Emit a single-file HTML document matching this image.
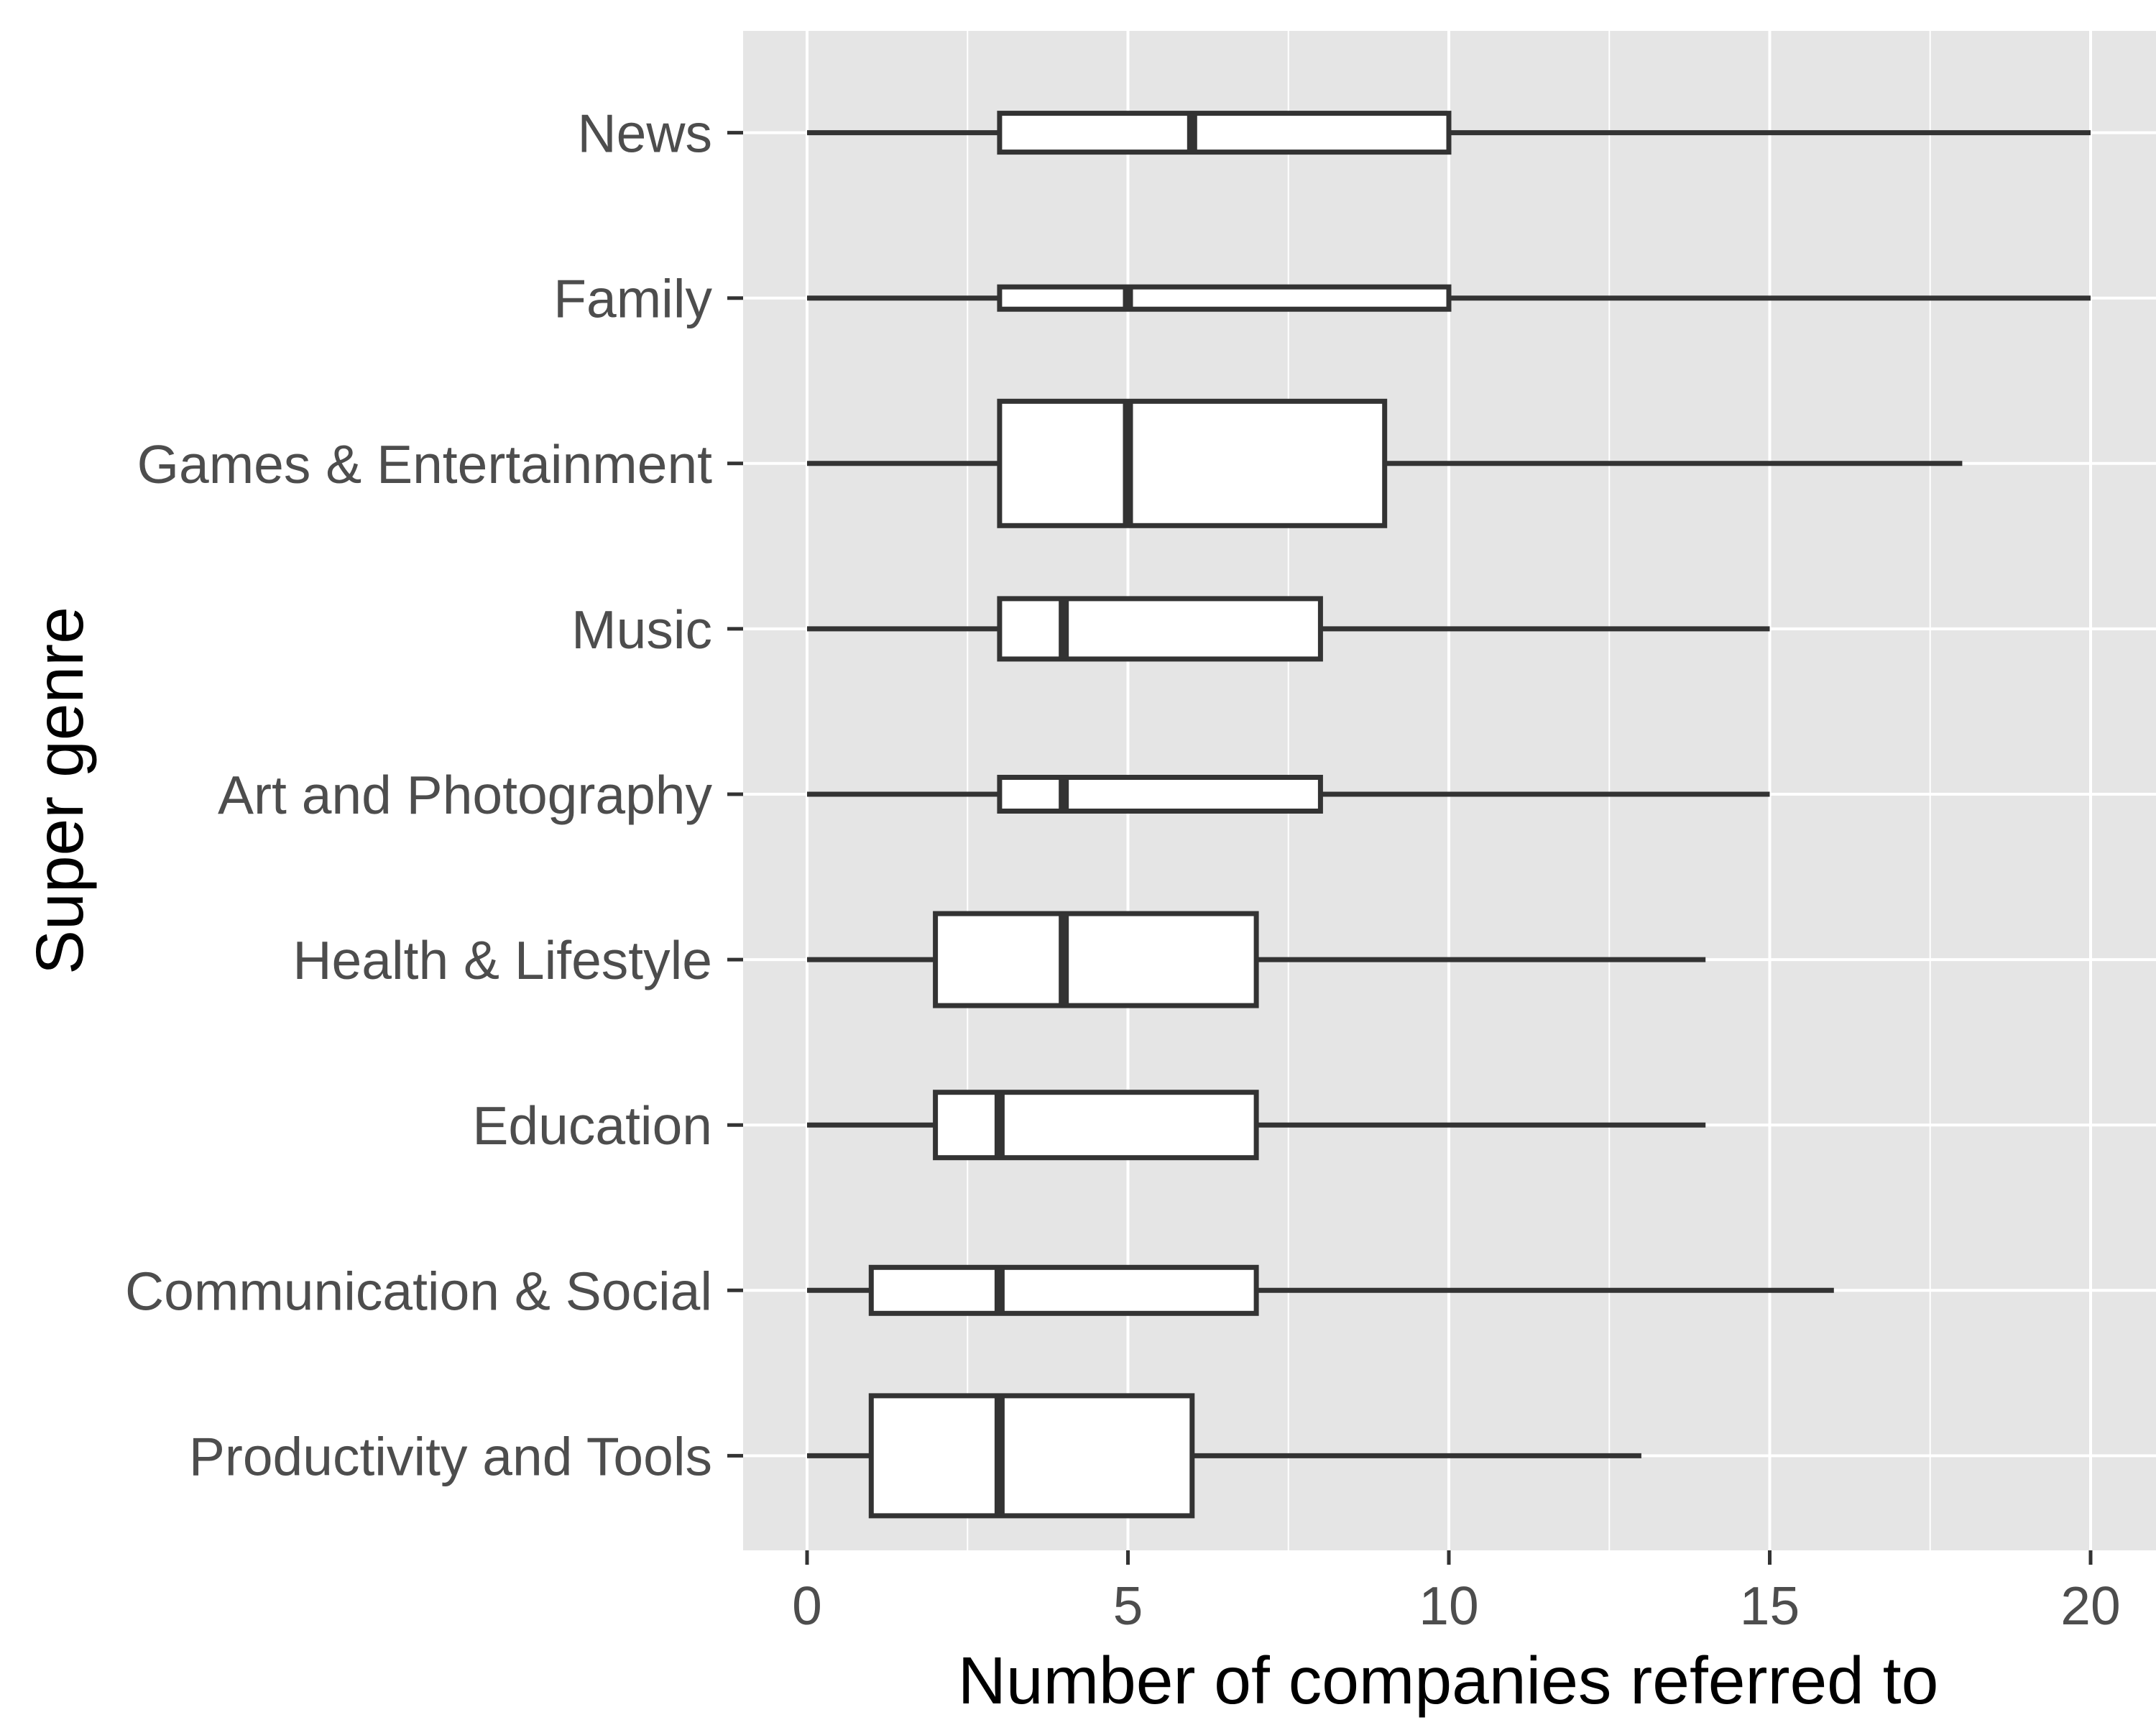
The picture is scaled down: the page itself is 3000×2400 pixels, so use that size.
<!DOCTYPE html>
<html><head><meta charset="utf-8"><style>
html,body{margin:0;padding:0;background:#fff}
svg{display:block}
text{font-family:"Liberation Sans",Arial,sans-serif}
</style></head><body>
<svg id="chart" width="3000" height="2400" viewBox="0 0 3000 2400">
<rect x="1034" y="43" width="1966" height="2114" fill="#e5e5e5"/>
<g id="grid"></g><g id="boxes"></g><g id="axes"></g>
<text x="2015" y="2370" font-size="93" text-anchor="middle" fill="#000">Number of companies referred to</text>
<text transform="translate(115,1100) rotate(-90)" font-size="93" text-anchor="middle" fill="#000">Super genre</text>
</svg>
<script>
const categories=["News","Family","Games & Entertainment","Music","Art and Photography","Health & Lifestyle","Education","Communication & Social","Productivity and Tools"];
const mins=[0,0,0,0,0,0,0,0,0];
const q1s=[3,3,3,3,3,2,2,1,1];
const medians=[6,5,5,4,4,4,3,3,3];
const q3s=[10,10,9,8,8,7,7,7,6];
const maxs=[20,20,18,15,15,14,14,16,13];
const boxHeights=[54,31,173,84,47,128,91,64,167];
const xTicks=[0,5,10,15,20];
const NS="http://www.w3.org/2000/svg";
const X=v=>1123+v*89.3;
const Y=i=>184.6+i*230.1;
function mk(tag,attrs,parent){const e=document.createElementNS(NS,tag);for(const k in attrs)e.setAttribute(k,attrs[k]);parent.appendChild(e);return e;}
const grid=document.getElementById('grid'),boxes=document.getElementById('boxes'),axes=document.getElementById('axes');
for(let v=2.5;v<20;v+=5){const l=mk('line',{x1:X(v),x2:X(v),y1:43,y2:2157,stroke:'#fff','stroke-width':2},grid);

}
xTicks.forEach(v=>{const l=mk('line',{x1:X(v),x2:X(v),y1:43,y2:2157,stroke:'#fff','stroke-width':4},grid);


const t=mk('line',{x1:X(v),x2:X(v),y1:2157,y2:2177,stroke:'#333','stroke-width':5},axes);


const tx=mk('text',{x:X(v),y:2260,'font-size':75,'text-anchor':'middle',fill:'#4d4d4d'},axes);tx.textContent=v;

});
categories.forEach((c,i)=>{const y=Y(i);
const g=mk('line',{x1:1034,x2:3000,y1:y,y2:y,stroke:'#fff','stroke-width':4},grid);


const t=mk('line',{x1:1012,x2:1034,y1:y,y2:y,stroke:'#333','stroke-width':5},axes);


const tx=mk('text',{x:991,y:y+27,'font-size':75,'text-anchor':'end',fill:'#4d4d4d'},axes);tx.textContent=c;


const h=boxHeights[i];
const w1=mk('line',{x1:X(mins[i]),x2:X(q1s[i]),y1:y,y2:y,stroke:'#333','stroke-width':7},boxes);


const w2=mk('line',{x1:X(q3s[i]),x2:X(maxs[i]),y1:y,y2:y,stroke:'#333','stroke-width':7},boxes);


const r=mk('rect',{x:X(q1s[i]),y:y-h/2,width:X(q3s[i])-X(q1s[i]),height:h,fill:'#fff',stroke:'#333','stroke-width':7},boxes);


const m=mk('line',{x1:X(medians[i]),x2:X(medians[i]),y1:y-h/2,y2:y+h/2,stroke:'#333','stroke-width':14},boxes);

});
</script>
</body></html>
